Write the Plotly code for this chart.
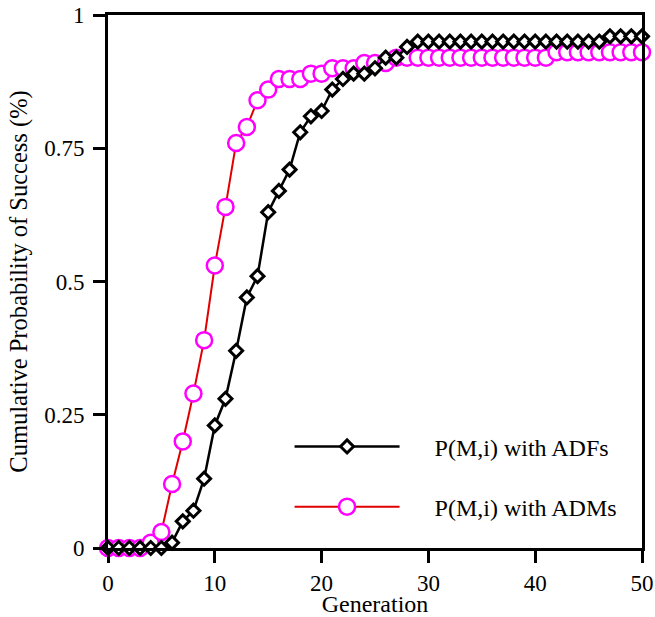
import plotly.graph_objects as go

generation = list(range(0, 51))

adf = [0, 0, 0, 0, 0, 0, 0.01, 0.05, 0.07, 0.13,
       0.23, 0.28, 0.37, 0.47, 0.51, 0.63, 0.67, 0.71, 0.78, 0.81,
       0.82, 0.86, 0.88, 0.89, 0.89, 0.90, 0.92, 0.92, 0.94, 0.95,
       0.95, 0.95, 0.95, 0.95, 0.95, 0.95, 0.95, 0.95, 0.95, 0.95,
       0.95, 0.95, 0.95, 0.95, 0.95, 0.95, 0.95, 0.96, 0.96, 0.96, 0.96]

adm = [0, 0, 0, 0, 0.01, 0.03, 0.12, 0.20, 0.29, 0.39,
       0.53, 0.64, 0.76, 0.79, 0.84, 0.86, 0.88, 0.88, 0.88, 0.89,
       0.89, 0.90, 0.90, 0.90, 0.91, 0.91, 0.91, 0.92, 0.92, 0.92,
       0.92, 0.92, 0.92, 0.92, 0.92, 0.92, 0.92, 0.92, 0.92, 0.92,
       0.92, 0.92, 0.93, 0.93, 0.93, 0.93, 0.93, 0.93, 0.93, 0.93, 0.93]

y_ticks = [0, 0.25, 0.5, 0.75, 1]
y_tick_labels = ["0", "0.25", "0.5", "0.75", "1"]
x_ticks = [0, 10, 20, 30, 40, 50]

FONT = "Liberation Serif, Times New Roman, serif"
GAP = "\u00a0" * 5

fig = go.Figure()
fig.add_trace(go.Scatter(
    x=generation, y=adm, mode="lines+markers", name=GAP + "P(M,i) with ADMs",
    line=dict(color="#e00000", width=2),
    marker=dict(symbol="circle", size=16, color="white",
                line=dict(color="#ff00ff", width=2.5)),
    cliponaxis=False, legendgroup="b", legendrank=2,
))
fig.add_trace(go.Scatter(
    x=generation, y=adf, mode="lines+markers", name=GAP + "P(M,i) with ADFs",
    line=dict(color="black", width=2.5),
    marker=dict(symbol="diamond", size=10, color="white",
                line=dict(color="black", width=3)),
    cliponaxis=False, legendgroup="a", legendrank=1,
))

axis_common = dict(
    showline=True, linecolor="black", linewidth=3, mirror=True,
    ticks="outside", ticklen=12, tickwidth=3, tickcolor="black",
    showgrid=False, zeroline=False, automargin=False,
    tickfont=dict(family=FONT, size=23, color="black"),
)

fig.update_layout(
    width=655, height=617,
    margin=dict(l=108, r=13, t=15, b=69),
    paper_bgcolor="white", plot_bgcolor="white",
    font=dict(family=FONT, size=23, color="black"),
    xaxis=dict(range=[0, 50], tickvals=x_ticks,
               title=dict(text="Generation", standoff=0,
                          font=dict(family=FONT, size=24)),
               **axis_common),
    yaxis=dict(range=[0, 1], tickvals=y_ticks, ticktext=y_tick_labels,
               ticklabelstandoff=4,
               title=dict(text="Cumulative Probability of Success (%)", standoff=10,
                          font=dict(family=FONT, size=24.5)),
               **axis_common),
    legend=dict(x=0.34, y=0.232, xanchor="left", yanchor="top",
                bgcolor="rgba(0,0,0,0)", font=dict(family=FONT, size=24),
                itemwidth=105, tracegroupgap=26, traceorder="grouped"),
)

fig.write_html("out.html",
               config={"displayModeBar": False},
               post_script="document.body.style.margin='0';"
                           "document.body.style.overflow='hidden';")
